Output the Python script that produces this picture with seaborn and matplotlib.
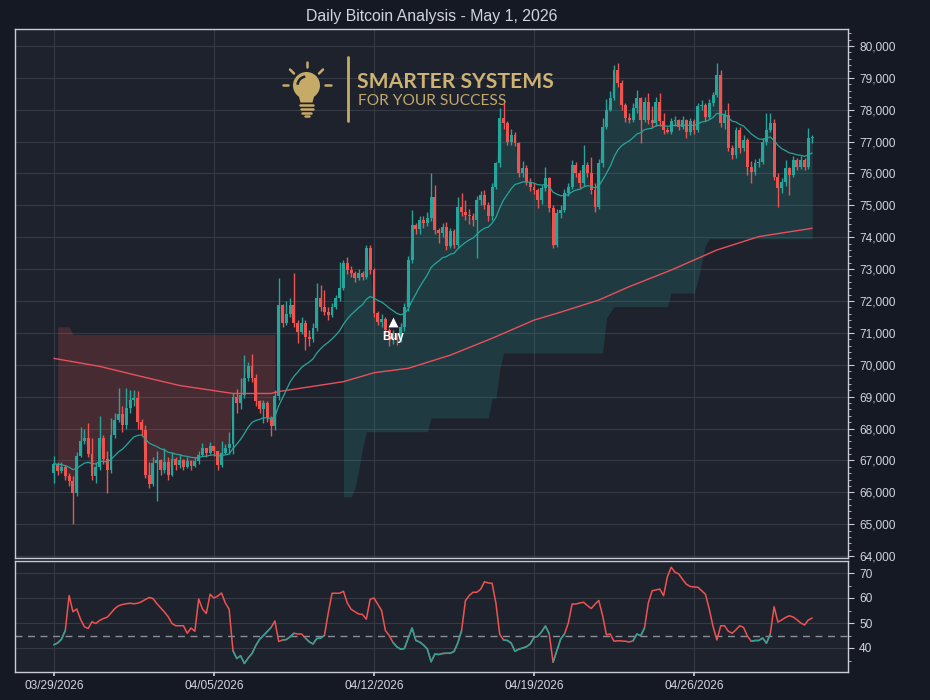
import numpy as np
import pandas as pd
import matplotlib
matplotlib.use("Agg")
import matplotlib.pyplot as plt
import seaborn as sns
from matplotlib.ticker import FuncFormatter, MultipleLocator, AutoMinorLocator
from matplotlib.patches import Circle, Polygon, Arc
from matplotlib.lines import Line2D
from matplotlib.transforms import Affine2D

# ---------------------------------------------------------------- data
title = "Daily Bitcoin Analysis - May 1, 2026"
date_labels = ["03/29/2026", "04/05/2026", "04/12/2026", "04/19/2026", "04/26/2026"]
date_tick_idx = [0, 42, 84, 126, 168]          # 4-hour candles, 6 per day

first_open = 66600
closes = [
    66900, 66660, 66800, 66500, 66340, 65980, 67150, 67600, 67700, 67200,
    66500, 66800, 67700, 67030, 66710, 67810, 68280, 68450, 68100, 68650,
    68900, 68950, 68200, 67950, 66550, 66250, 66920, 67000, 66700, 66960,
    66550, 67030, 66850, 67000, 66800, 66970, 66820, 66980, 67180, 67390,
    67230, 67440, 67280, 66850, 67230, 67390, 67500, 69000, 68800, 69060,
    69600, 69950, 69590, 68850, 68600, 68800, 68330, 68070, 69010, 71870,
    71300, 71600, 71870, 71300, 71040, 71300, 70880, 70800, 71140, 72080,
    71820, 71670, 71560, 71820, 72080, 72400, 73180, 72970, 72870, 72710,
    72870, 72760, 73650, 72970, 71610, 71350, 71450, 71090, 70780, 70950,
    70780, 71200, 71820, 73290, 74380, 74250, 74540, 74440, 74600, 75270,
    74230, 74120, 74330, 73710, 74180, 73760, 74960, 74800, 74700, 74650,
    74550, 75170, 75330, 75010, 74650, 75590, 76320, 77730, 77570, 77000,
    77200, 76950, 76000, 76160, 75740, 75590, 75480, 75170, 75530, 75850,
    74910, 73760, 74750, 74860, 75380, 75590, 76270, 76010, 75690, 76270,
    76010, 75480, 74960, 76320, 77470, 78000, 78360, 79250, 78830, 78150,
    77730, 77680, 78045, 78360, 77680, 78250, 77680, 77580, 78250, 77630,
    77370, 77300, 77630, 77680, 77470, 77680, 77310, 77630, 77370, 78100,
    78150, 77780, 78200, 78460, 79090, 77570, 77830, 76790, 76580, 77370,
    76790, 77050, 76210, 76050, 76320, 76370, 77000, 77370, 77570, 75900,
    75540, 75740, 76160, 75950, 76420, 76210, 76420, 76210, 77100, 77150,
]
highs = [
    67130, 66950, 66950, 66850, 66600, 66500, 67250, 68050, 68000, 68180,
    67700, 66950, 68390, 67800, 67300, 68330, 68500, 69270, 68700, 69270,
    69200, 69220, 69190, 68300, 68100, 66950, 67100, 67300, 67050, 67400,
    67100, 67250, 67100, 67200, 67050, 67100, 67000, 67100, 67300, 67550,
    67400, 67580, 67450, 67300, 67600, 67500, 67900, 69100, 69250, 69600,
    70320, 70100, 70340, 69700, 68900, 68900, 68850, 68400, 69200, 72710,
    71900, 72000, 72100, 72870, 71400, 71500, 71400, 71100, 71300, 72550,
    72500, 72350, 71800, 71950, 72200, 73230, 73290, 73390, 73100, 72950,
    73000, 72950, 73760, 73760, 73050, 71700, 71600, 71500, 71150, 71100,
    71000, 71300, 71950, 73400, 74860, 74450, 74650, 74650, 74800, 76000,
    75640, 74300, 74450, 74490, 74300, 74250, 75270, 75380, 75170, 74900,
    74750, 75300, 75450, 75480, 75100, 75700, 76370, 78050, 78200, 77650,
    77400, 77310, 77000, 76400, 76250, 75850, 75700, 75550, 75650, 76210,
    75900, 75000, 74900, 75000, 75500, 75700, 76420, 76350, 76100, 76900,
    76350, 76530, 75700, 76450, 77730, 78350, 78600, 79400, 79460, 78930,
    78200, 77900, 78200, 78620, 78400, 78400, 78520, 78100, 78410, 78520,
    77900, 77450, 77750, 77800, 77700, 77800, 77700, 77750, 77700, 78200,
    78300, 78200, 78350, 78550, 79460, 79250, 78000, 78200, 76900, 77450,
    77450, 77200, 77100, 76400, 76450, 76500, 77100, 77890, 77890, 77700,
    76000, 75850, 76420, 76200, 76550, 76500, 76550, 76500, 77420, 77200,
]
lows = [
    66300, 66550, 66600, 66400, 66200, 65000, 65900, 67100, 67500, 67100,
    66400, 66300, 66700, 66900, 65980, 66600, 67700, 68200, 67900, 68000,
    68500, 68700, 68000, 67800, 66450, 66150, 66200, 65720, 66550, 66600,
    66400, 66500, 66700, 66750, 66700, 66750, 66700, 66800, 66900, 67150,
    67100, 67200, 67150, 66700, 66800, 67200, 67200, 67200, 68500, 68600,
    68950, 69500, 69450, 68700, 68500, 68180, 68200, 67760, 67950, 68900,
    71200, 71250, 71500, 71200, 70670, 70950, 70460, 70600, 70700, 71050,
    71700, 71550, 71400, 71500, 71750, 72000, 72350, 72850, 72750, 72600,
    72650, 72650, 72700, 72850, 71500, 71250, 71200, 70900, 70600, 70650,
    70620, 70700, 71050, 71700, 73200, 74100, 74100, 74300, 74350, 74500,
    74100, 73810, 74000, 73600, 73650, 73650, 73700, 74650, 74550, 74400,
    74350, 73340, 75000, 74900, 74500, 74550, 75500, 76200, 77400, 76900,
    76900, 76850, 75900, 75900, 75640, 75450, 75350, 74910, 75050, 75450,
    74800, 73650, 73700, 74600, 74800, 75300, 75500, 75900, 75550, 75600,
    75900, 75350, 74800, 74900, 76200, 77400, 77950, 78300, 78700, 78000,
    77600, 77570, 77600, 77900, 76950, 77600, 77550, 77450, 77500, 77500,
    77250, 77260, 77250, 77500, 77350, 77400, 77100, 77200, 77250, 77300,
    78000, 77650, 77700, 78100, 78400, 77450, 77400, 76700, 76450, 76500,
    76650, 76700, 75950, 75690, 75950, 76200, 76300, 76900, 77300, 75800,
    74960, 75400, 75600, 75320, 75900, 76100, 76150, 76100, 76150, 76950,
]
rsi = [
    41.3, 42.0, 43.5, 47.0, 61.0, 54.5, 55.6, 51.5, 48.5, 47.8,
    50.5, 49.8, 51.0, 51.8, 52.3, 54.0, 55.8, 56.9, 57.4, 57.7,
    57.9, 57.7, 57.9, 58.5, 59.4, 60.2, 59.8, 57.8, 56.1, 54.4,
    52.5, 49.8, 48.9, 48.9, 48.9, 45.9, 48.0, 46.7, 59.6, 55.6,
    53.8, 61.5, 60.0, 60.8, 62.0, 58.0, 55.5, 38.9, 35.8, 36.9,
    33.8, 36.0, 37.8, 41.0, 43.5, 45.0, 46.6, 48.2, 50.8, 42.6,
    43.2, 43.4, 44.5, 45.9, 45.6, 45.6, 44.0, 42.5, 41.6, 43.8,
    44.0, 45.0, 54.0, 61.9, 61.9, 61.9, 62.7, 58.0, 55.5, 54.5,
    53.6, 53.4, 51.5, 59.5, 60.0, 57.5, 55.0, 47.0, 45.0, 42.2,
    40.5, 39.5, 39.8, 44.0, 48.0, 43.0, 42.4, 41.2, 39.6, 34.5,
    37.6, 37.4, 37.8, 37.9, 37.9, 38.6, 42.0, 47.0, 58.9, 61.0,
    62.3, 62.3, 63.5, 66.5, 66.0, 65.9, 58.0, 45.5, 43.2, 43.0,
    42.0, 38.7, 39.5, 40.0, 40.5, 41.6, 44.2, 44.7, 46.5, 48.8,
    45.6, 34.3, 38.9, 43.6, 45.6, 50.0, 57.6, 57.6, 58.0, 58.3,
    57.0, 55.8, 57.5, 59.0, 53.0, 45.3, 45.6, 42.7, 42.9, 42.8,
    42.7, 42.4, 42.9, 45.6, 44.9, 48.0, 58.0, 62.9, 63.2, 63.6,
    60.9, 68.5, 72.3, 70.3, 69.6, 67.4, 65.5, 64.6, 64.4, 64.3,
    62.9, 61.5, 55.5, 48.5, 43.2, 48.9, 48.9, 46.7, 45.9, 47.3,
    48.9, 48.2, 44.8, 42.7, 43.0, 43.0, 44.0, 41.9, 45.6, 56.5,
    50.4, 51.2, 52.2, 52.9, 52.4, 51.3, 50.0, 49.2, 51.2, 52.0,
]
# index ranges (inclusive) where the RSI line is drawn teal instead of red
rsi_teal_ranges = [(0, 3), (47, 57), (60, 63), (66, 71), (89, 107),
                   (118, 130), (131, 134), (152, 155), (183, 188)]
rsi_ref_level = 45

# long moving average (red line), read at candle indices
ma_long_idx = [0, 12, 22, 33, 47, 57, 59, 76, 84, 93, 104, 115, 126, 133,
               143, 151, 162, 174, 185, 199]
ma_long_val = [70200, 69950, 69660, 69350, 69100, 69100, 69160, 69470, 69750,
               69890, 70300, 70830, 71400, 71650, 72030, 72450, 72970, 73600,
               74020, 74280]

# trailing stop levels (run-length encoded)
bear_stop_start = 1
bear_stop_vals = [71190, 70950]
bear_stop_runs = [4, 54]
bull_stop_start = 76
bull_stop_vals = [65860, 66120, 66700, 67380, 67900, 68330, 68950, 69840, 70370,
                  71460, 71650, 71820, 72250, 72650, 73200, 73750, 73950]
bull_stop_runs = [3, 1, 1, 1, 17, 16, 2, 1, 27, 1, 1, 15, 7, 1, 1, 1, 28]

buy_idx = 89
buy_price = 71330
ema_span = 20

# ---------------------------------------------------------------- style
FIG_BG = "#151924"
AX_BG = "#1e222d"
GRID = "#363a45"
SPINE = "#c9ccd4"
TXT = "#d1d4dc"
UP = "#26a69a"
DOWN = "#ef5350"
GOLD = "#c6aa68"

sns.set_theme(style="dark", rc={
    "figure.facecolor": FIG_BG, "axes.facecolor": AX_BG,
    "axes.edgecolor": SPINE, "grid.color": GRID, "text.color": TXT,
    "xtick.color": TXT, "ytick.color": TXT, "axes.labelcolor": TXT,
})
plt.rcParams["font.family"] = ["Liberation Sans", "DejaVu Sans"]

# ---------------------------------------------------------------- frame
n = len(closes)
idx = np.arange(n)
c = np.array(closes, float)
o = np.concatenate([[first_open], c[:-1]])
h = np.maximum(np.array(highs, float), np.maximum(o, c))
l = np.minimum(np.array(lows, float), np.minimum(o, c))
df = pd.DataFrame({"i": idx, "open": o, "high": h, "low": l, "close": c,
                   "rsi": rsi})
df["ema"] = df["close"].ewm(span=ema_span, adjust=False).mean()

W, H = 930, 700
fig = plt.figure(figsize=(W / 100, H / 100), dpi=100, facecolor=FIG_BG)
ax = fig.add_axes([15 / W, (H - 558) / H, 833 / W, 529 / H])
axr = fig.add_axes([15 / W, (H - 672) / H, 833 / W, 111 / H], sharex=ax)

# ---------------------------------------------------------------- fills
bear_stop = np.repeat(bear_stop_vals, bear_stop_runs)
bear_i = np.arange(bear_stop_start, bear_stop_start + len(bear_stop))
ax.fill_between(bear_i, bear_stop, c[bear_i], color=DOWN, alpha=0.2, lw=0, zorder=1)
bull_stop = np.repeat(bull_stop_vals, bull_stop_runs)
bull_i = np.arange(bull_stop_start, bull_stop_start + len(bull_stop))
ax.fill_between(bull_i, bull_stop, c[bull_i], color=UP, alpha=0.19, lw=0, zorder=1)

# ---------------------------------------------------------------- candles
up = df["close"] >= df["open"]
cols = np.where(up, UP, DOWN)
ax.vlines(df["i"], df["low"], df["high"], colors=cols, lw=1.0, zorder=2.5)
body_lo = np.minimum(df["open"], df["close"])
body_h = np.maximum((df["close"] - df["open"]).abs(), 25)
ax.bar(df["i"], body_h, bottom=body_lo, width=0.76, color=cols, lw=0, zorder=3)

# ---------------------------------------------------------------- lines
sns.lineplot(x=ma_long_idx, y=ma_long_val, ax=ax, color="#e8505b", lw=1.0,
             zorder=4, legend=False)
sns.lineplot(data=df, x="i", y="ema", ax=ax, color=UP, lw=0.9, zorder=4,
             legend=False)

# buy signal
ax.scatter([buy_idx], [buy_price], marker="^", s=50, color="white", zorder=6,
           linewidths=0)
ax.annotate("Buy", (buy_idx, buy_price), xytext=(0, -10.5), textcoords="offset points",
            ha="center", va="center", color="white", fontsize=8.3,
            fontweight="bold", zorder=6)

# ---------------------------------------------------------------- RSI panel
sns.lineplot(data=df, x="i", y="rsi", ax=axr, color=DOWN, lw=1.1, legend=False,
             zorder=3)
for a, b in rsi_teal_ranges:
    seg = df.iloc[a:b + 1]
    sns.lineplot(data=seg, x="i", y="rsi", ax=axr, color=UP, lw=1.1,
                 legend=False, zorder=3.5)
axr.axhline(rsi_ref_level, color="#8b8e97", lw=1.0, ls=(0, (5, 4)), zorder=2)

# ---------------------------------------------------------------- axes cosmetics
ax.set_xlim(-10.2, 208.4)
ax.set_ylim(63940, 80530)
axr.set_ylim(30.4, 74.8)

for a_ in (ax, axr):
    a_.set_facecolor(AX_BG)
    a_.set_xticks(date_tick_idx)
    a_.grid(True, which="major", color=GRID, lw=0.8)
    a_.set_axisbelow(True)
    a_.set_xlabel("")
    a_.set_ylabel("")
    for s in a_.spines.values():
        s.set_visible(True)
        s.set_color(SPINE)
        s.set_linewidth(1.0)
    a_.yaxis.tick_right()
    a_.tick_params(axis="y", which="both", right=True, left=False,
                   labelright=True, labelleft=False, direction="out",
                   color=SPINE, labelcolor=TXT, labelsize=8.6)
    a_.tick_params(axis="y", which="major", length=4, width=0.8, pad=4)
    a_.tick_params(axis="y", which="minor", length=2, width=0.6)

ax.yaxis.set_major_locator(MultipleLocator(1000))
ax.yaxis.set_minor_locator(AutoMinorLocator(5))
ax.yaxis.set_major_formatter(FuncFormatter(lambda v, p: f"{v:,.0f}"))
ax.tick_params(axis="x", which="both", bottom=False, labelbottom=False)

axr.yaxis.set_major_locator(MultipleLocator(10))
axr.yaxis.set_minor_locator(AutoMinorLocator(2))
axr.set_xticklabels(date_labels)
axr.tick_params(axis="x", bottom=True, length=3, color=SPINE, labelcolor=TXT,
                labelsize=8.6, pad=3)

# ---------------------------------------------------------------- title + logo
px = Affine2D().scale(1 / 100.0, -1 / 100.0).translate(0, H / 100.0) + fig.dpi_scale_trans

def fit(txt, target_w):
    fig.canvas.draw()
    r = fig.canvas.get_renderer()
    w = txt.get_window_extent(r).width
    txt.set_fontsize(txt.get_fontsize() * target_w / w)

t_title = fig.text(431.5, 17, title, transform=px, ha="center", va="center",
                   color=TXT, fontsize=10)

logo_patches = [
    Circle((306.5, 85.5), 13.5, transform=px, color=GOLD, lw=0, zorder=0.6),
    Polygon([(297.5, 91), (315.5, 91), (312.5, 102.5), (300.5, 102.5)],
            closed=True, transform=px, color=GOLD, lw=0, zorder=0.6),
    Arc((306.5, 85.5), 18, 18, theta1=185, theta2=262, transform=px,
        color=AX_BG, lw=1.8, zorder=0.7),
]
for p in logo_patches:
    ax.add_patch(p)
logo_lines = [
    ((300, 313), (105.2, 105.2)), ((300.5, 312.5), (109.3, 109.3)),
    ((302, 311), (113.3, 113.3)), ((304.5, 308.5), (116, 116)),
    ((306.5, 306.5), (61.5, 67)), ((290, 294), (69.5, 73.5)),
    ((323, 319), (69.5, 73.5)), ((282.5, 288), (85, 85)),
    ((325, 330.5), (85, 85)),
]
for xs, ys in logo_lines:
    ax.add_line(Line2D(xs, ys, transform=px, color=GOLD, lw=1.8,
                       solid_capstyle="round", zorder=0.6))
ax.add_line(Line2D((347.5, 347.5), (57, 120.5), transform=px, color=GOLD,
                   lw=2.0, zorder=0.6))
t_big = ax.text(357.3, 87.5, "SMARTER SYSTEMS", transform=px, ha="left",
                va="baseline", color="#cdb273", fontsize=14, fontweight="bold",
                family=["Lato", "DejaVu Sans"], zorder=0.6)
t_small = ax.text(357.5, 105, "FOR YOUR SUCCESS", transform=px, ha="left",
                  va="baseline", color="#c2a86c", fontsize=9,
                  family=["Lato", "DejaVu Sans"], zorder=0.6)

fit(t_title, 253)
fit(t_big, 198)
fit(t_small, 148)

fig.savefig("out.png", dpi=100, facecolor=FIG_BG)
